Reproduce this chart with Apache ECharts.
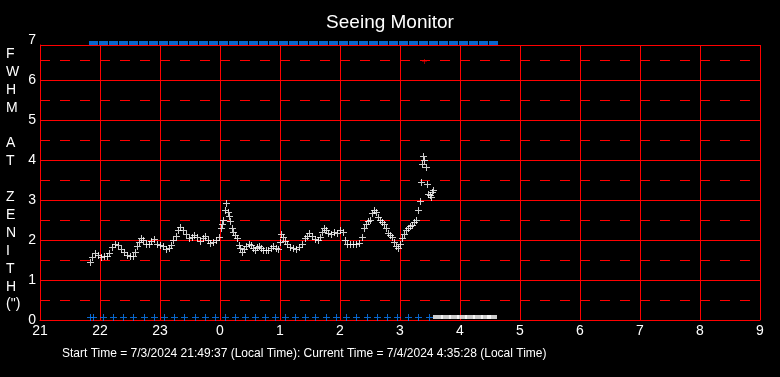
<!DOCTYPE html>
<html>
<head>
<meta charset="utf-8">
<title>Seeing Monitor</title>
<script src="https://cdn.jsdelivr.net/npm/echarts@6/dist/echarts.min.js"></script>
<style>
    html, body { margin: 0; padding: 0; background: #000; }
    #seeing { width: 780px; height: 377px; }
</style>
</head>
<body>
<div id="seeing"></div>
<script>
// time = minutes after 21:00 local
var seeingTime = [50, 52, 55, 58, 61, 64, 67, 69, 72, 75, 78, 81, 84, 87, 90, 93, 95, 97, 99, 101,
    103, 106, 109, 111, 114, 117, 120, 123, 126, 129, 131, 133, 136, 138, 140, 143, 146, 149, 152, 154,
    157, 160, 163, 165, 168, 170, 173, 176, 179, 181, 182, 183, 185, 186, 188, 189, 190, 192, 193, 195,
    197, 199, 200, 202, 204, 206, 209, 211, 213, 215, 217, 219, 221, 223, 226, 228, 231, 233, 236, 238,
    240, 241, 243, 245, 247, 250, 253, 256, 259, 262, 265, 267, 269, 272, 275, 278, 280, 282, 284, 286,
    288, 291, 294, 297, 300, 303, 305, 307, 310, 313, 316, 319, 322, 324, 326, 328, 330, 332, 334, 336,
    338, 340, 342, 344, 346, 348, 350, 352, 354, 356, 358, 360, 362, 364, 366, 368, 370, 372, 374, 376,
    378, 380, 381, 382, 383, 384, 386, 387, 388, 390, 391, 392, 393];
var seeingFwhm = [1.45, 1.575, 1.675, 1.625, 1.575, 1.6, 1.6, 1.675, 1.825, 1.9, 1.875, 1.775, 1.7, 1.625, 1.6, 1.6, 1.7, 1.85, 1.95, 2.05,
    2.0, 1.9, 1.9, 1.975, 2.025, 1.9, 1.875, 1.85, 1.775, 1.8, 1.875, 2.0, 2.1, 2.25, 2.325, 2.25, 2.15, 2.05, 2.075, 2.125,
    2.075, 1.975, 2.05, 2.1, 2.0, 1.925, 1.95, 2.0, 2.075, 2.3, 2.4, 2.5, 2.75, 2.925, 2.7, 2.6, 2.475, 2.3, 2.2, 2.125,
    2.05, 1.875, 1.8, 1.7, 1.775, 1.85, 1.9, 1.875, 1.8, 1.75, 1.825, 1.85, 1.8, 1.75, 1.75, 1.75, 1.8, 1.85, 1.8, 1.775,
    1.95, 2.15, 2.075, 1.975, 1.9, 1.825, 1.8, 1.775, 1.825, 1.9, 2.05, 2.1, 2.175, 2.1, 2.025, 2.0, 2.075, 2.2, 2.3, 2.25,
    2.175, 2.15, 2.2, 2.175, 2.25, 2.2, 2.0, 1.9, 1.9, 1.9, 1.9, 1.925, 2.075, 2.3, 2.4, 2.475, 2.5, 2.675, 2.75, 2.7,
    2.575, 2.5, 2.45, 2.4, 2.3, 2.175, 2.125, 2.075, 1.95, 1.85, 1.8, 1.9, 2.05, 2.15, 2.25, 2.3, 2.35, 2.375, 2.45, 2.5,
    2.75, 2.975, 3.45, 3.9, 4.1, 4.0, 3.825, 3.4, 3.15, 3.125, 3.075, 3.2, 3.25];

// blue markers on the top edge and the bottom edge
var topTime = [53, 63, 73, 83, 93, 103, 113, 123, 133, 143, 153, 163, 173, 183, 193, 203, 213, 223, 233, 243,
    253, 263, 273, 283, 293, 303, 313, 323, 333, 343, 353, 363, 373, 383, 393, 403, 413, 423, 433, 443, 453];
var bottomTime = [50, 53, 63, 73, 83, 93, 104, 114, 124, 134, 144, 155, 165, 175, 185, 195, 205, 215, 225, 235,
    245, 255, 265, 275, 286, 296, 306, 316, 327, 337, 347, 357, 368, 378, 389];
var bottomWhiteTime = [398, 406, 414, 422, 430, 438, 446, 452];
var redPoint = [[384, 6.475]];

var xTicks = ['21', '22', '23', '0', '1', '2', '3', '4', '5', '6', '7', '8', '9'];
var yTicks = ['0', '1', '2', '3', '4', '5', '6', '7'];
var yName = ['F', 'W', 'H', 'M', '', 'A', 'T', '', 'Z', 'E', 'N', 'I', 'T', 'H', '(")'];

var plus = 'path://M3,0H4V3H7V4H4V7H3V4H0V3H3Z';

function pairs(xs, ys) {
    var out = [];
    for (var i = 0; i < xs.length; i++) {
        out.push([xs[i], typeof ys === 'number' ? ys : ys[i]]);
    }
    return out;
}

var dom = document.getElementById("seeing");
var myChart = echarts.init(dom);

option = {
    backgroundColor: '#000',
    animation: false,
    title: {
        text: 'Seeing Monitor',
        left: 'center',
        top: 8,
        textStyle: {
            color: '#fff',
            fontFamily: 'Liberation Sans',
            fontSize: 19,
            fontWeight: 'normal'
        }
    },
    grid: {
        left: 40,
        right: 20,
        top: 45,
        bottom: 57
    },
    xAxis: {
        type: 'value',
        min: 0,
        max: 720,
        interval: 60,
        z: 1,
        axisLine: { lineStyle: { color: '#ff0000', width: 1 } },
        axisTick: { show: false },
        axisLabel: {
            color: '#fff',
            fontFamily: 'Liberation Sans',
            fontSize: 14,
            margin: 4,
            formatter: function (v) {
                return xTicks[Math.round(v / 60)];
            }
        },
        splitLine: { show: true, lineStyle: { color: '#ff0000', width: 1 } }
    },
    yAxis: [
        {
            // plot top sits just under 7 (40 px per unit)
            type: 'value',
            min: 0,
            max: 6.875,
            interval: 1,
            z: 1,
            axisLine: { show: true, lineStyle: { color: '#ff0000', width: 1 } },
            axisTick: { show: false },
            axisLabel: {
                color: '#fff',
                fontFamily: 'Liberation Sans',
                fontSize: 14,
                margin: 4,
                formatter: function (v) {
                    return v % 1 === 0 ? yTicks[v] : '';
                }
            },
            splitLine: { show: true, lineStyle: { color: '#ff0000', width: 1 } }
        },
        {
            // dashed half-unit lines
            type: 'value',
            min: 0,
            max: 6.875,
            interval: 0.5,
            z: 0,
            position: 'left',
            axisLine: { show: false },
            axisTick: { show: false },
            axisLabel: { show: false },
            splitLine: {
                show: true,
                lineStyle: { color: '#ff0000', width: 1, type: [10, 10] }
            }
        }
    ],
    graphic: [
        {
            type: 'text',
            x: 36,
            y: 40,
            style: {
                text: yTicks[7],
                fill: '#fff',
                font: '14px "Liberation Sans"',
                align: 'right',
                verticalAlign: 'middle'
            }
        },
        {
            type: 'text',
            left: 6,
            top: 45,
            style: {
                text: yName.join('\n'),
                fill: '#fff',
                font: '14px "Liberation Sans"',
                lineHeight: 17.9,
                align: 'center',
                x: 6
            }
        },
        {
            type: 'text',
            left: 62,
            top: 348,
            style: {
                text: 'Start Time = 7/3/2024 21:49:37 (Local Time): Current Time = 7/4/2024 4:35:28 (Local Time)',
                fill: '#fff',
                font: '12px "Liberation Sans"'
            }
        }
    ],
    series: [
        {
            name: 'top',
            type: 'scatter',
            clip: false,
            symbol: 'rect',
            symbolSize: [9, 4],
            symbolOffset: [0.5, 3],
            itemStyle: { color: '#0a80ff' },
            data: pairs(topTime, 7)
        },
        {
            name: 'bottom',
            type: 'scatter',
            clip: false,
            symbol: plus,
            symbolSize: 7,
            symbolOffset: [0.5, -2.5],
            itemStyle: { color: '#0a80ff' },
            data: pairs(bottomTime, 0)
        },
        {
            name: 'bottomWhite',
            type: 'scatter',
            clip: false,
            symbol: 'rect',
            symbolSize: [10, 4],
            symbolOffset: [0, -3],
            itemStyle: { color: '#fff' },
            data: pairs(bottomWhiteTime, 0)
        },
        {
            name: 'fwhm',
            type: 'scatter',
            clip: false,
            symbol: plus,
            symbolSize: 7,
            symbolOffset: [0.5, 0.5],
            itemStyle: { color: '#fff' },
            data: pairs(seeingTime, seeingFwhm)
        },
        {
            name: 'red',
            type: 'scatter',
            clip: false,
            symbol: plus,
            symbolSize: 5,
            symbolOffset: [0.5, 0.5],
            itemStyle: { color: '#ff0000' },
            data: redPoint
        }
    ]
};

myChart.setOption(option);
</script>
</body>
</html>
